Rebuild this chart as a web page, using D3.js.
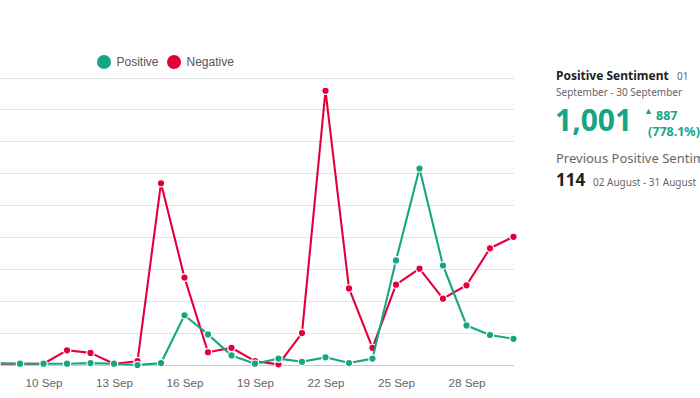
<!DOCTYPE html>
<html>
<head>
<meta charset="utf-8">
<script src="https://cdn.jsdelivr.net/npm/d3@7/dist/d3.min.js"></script>
<style>
  html, body { margin: 0; padding: 0; background: #fff; }
  svg { display: block; }
</style>
</head>
<body>
<svg id="chart" width="700" height="398"></svg>
<script>
// ---- data ----
const days = d3.range(1, 31); // 1..30 September
const positive = [3, 4, 2, 5, 3, 4, 2, 3, 2, 2, 2, 3, 2, 0, 3, 78, 48, 15, 2, 10, 5, 12, 3, 10, 164, 308, 156, 62, 47, 41];
const negative = [2, 3, 1, 4, 2, 3, 2, 2, 2, 2, 23, 19, 2, 6, 285, 137, 20, 27, 6, 1, 50, 430, 120, 27, 126, 151, 104, 125, 183, 201];
const tickDays = [10, 13, 16, 19, 22, 25, 28];
const tickLabels = ["10 Sep", "13 Sep", "16 Sep", "19 Sep", "22 Sep", "25 Sep", "28 Sep"];
const seriesNames = ["Positive", "Negative"];
const gridValues = [0, 50, 100, 150, 200, 250, 300, 350, 400, 450];

const GREEN = "#16a585";
const RED = "#e3003a";

const svg = d3.select("#chart");

const x = d3.scaleLinear().domain([10, 28]).range([43.5, 466.5]);
const y = d3.scaleLinear().domain([0, 450]).range([365, 78]);
const xMin = x(1), xMax = x(30);

// gridlines
svg.append("g").selectAll("line").data(gridValues).join("line")
  .attr("x1", xMin).attr("x2", xMax)
  .attr("y1", d => y(d)).attr("y2", d => y(d))
  .attr("stroke", d => d === 0 ? "#c8c8c8" : "#e3e3e3")
  .attr("stroke-width", 1)
  .attr("shape-rendering", "crispEdges");

// x axis
const xAxis = d3.axisBottom(x).tickValues(tickDays)
  .tickFormat((d, i) => tickLabels[i]).tickSize(0).tickPadding(0);
const gx = svg.append("g").attr("transform", `translate(0,${y(0)})`).call(xAxis);
gx.select(".domain").remove();
gx.selectAll("text")
  .attr("y", 21.5).attr("dy", 0)
  .attr("fill", "#666")
  .style("font-family", "'Liberation Sans', Arial, sans-serif")
  .style("font-size", "11.7px");

const line = d3.line().x((d, i) => x(days[i])).y(d => y(d));

function drawSeries(vals, color) {
  const g = svg.append("g");
  g.append("path").datum(vals)
    .attr("fill", "none").attr("stroke", color)
    .attr("stroke-width", 2.1).attr("stroke-linejoin", "round")
    .attr("d", line);
  g.selectAll("circle").data(vals).join("circle")
    .attr("cx", (d, i) => x(days[i])).attr("cy", d => y(d))
    .attr("r", 3.7).attr("fill", color)
    .attr("stroke", "#fff").attr("stroke-width", 1.2);
}
drawSeries(negative, RED);
drawSeries(positive, GREEN);

// legend
const legend = svg.append("g")
  .style("font-family", "'Liberation Sans', Arial, sans-serif")
  .style("font-size", "12px");
const legX = [104, 174];
seriesNames.forEach((name, i) => {
  legend.append("circle").attr("cx", legX[i]).attr("cy", 62).attr("r", 7)
    .attr("fill", i === 0 ? GREEN : RED);
  legend.append("text").attr("x", legX[i] + 12.5).attr("y", 66.2)
    .attr("fill", "#555").text(name);
});

// side panel
const p = svg.append("g").style("font-family", "'Noto Sans', sans-serif");
p.append("text").attr("x", 556).attr("y", 80).attr("fill", "#222")
  .style("font-weight", "700").style("font-size", "12px").text("Positive Sentiment");
p.append("text").attr("x", 677).attr("y", 80).attr("fill", "#666")
  .style("font-size", "10px").text("01");
p.append("text").attr("x", 556).attr("y", 96).attr("fill", "#666")
  .style("font-size", "10px").text("September - 30 September");
p.append("text").attr("x", 555).attr("y", 131).attr("fill", GREEN)
  .style("font-weight", "700").style("font-size", "30px").text(d3.format(",")(d3.sum(positive)));
p.append("text").attr("x", 644).attr("y", 114).attr("fill", GREEN)
  .style("font-size", "9px").text("▲");
p.append("text").attr("x", 656).attr("y", 120).attr("fill", GREEN)
  .style("font-weight", "700").style("font-size", "12.5px").text("887");
p.append("text").attr("x", 648).attr("y", 136).attr("fill", GREEN)
  .style("font-weight", "700").style("font-size", "12.5px").text("(778.1%)");
p.append("text").attr("x", 556).attr("y", 163).attr("fill", "#666")
  .style("font-size", "13px").text("Previous Positive Sentiment");
p.append("text").attr("x", 556).attr("y", 186).attr("fill", "#222")
  .style("font-weight", "700").style("font-size", "17px").text("114");
p.append("text").attr("x", 593).attr("y", 186).attr("fill", "#666")
  .style("font-size", "10px").text("02 August - 31 August");
</script>
</body>
</html>
